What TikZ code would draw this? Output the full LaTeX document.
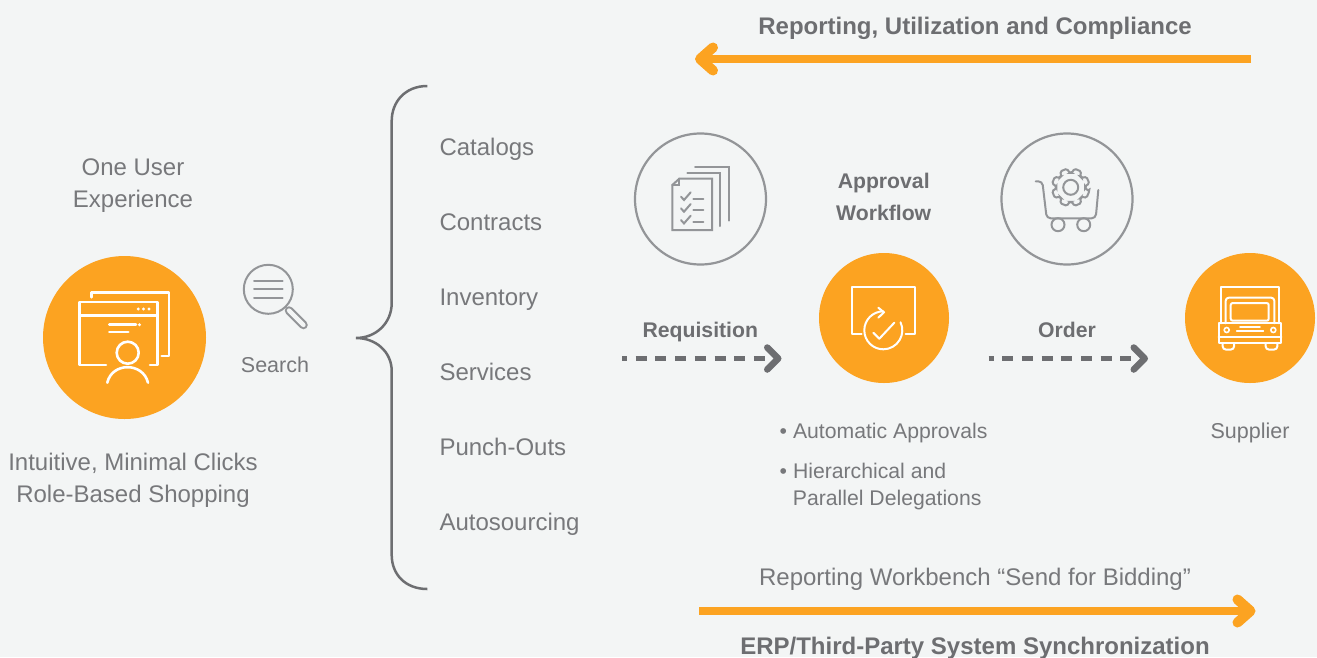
\documentclass[tikz,border=0pt]{standalone}
\usepackage{fontspec}
\setmainfont{Liberation Sans}
\usetikzlibrary{arrows.meta}
\definecolor{pagegray}{HTML}{F3F5F5}
\definecolor{accentorange}{HTML}{FCA321}
\definecolor{textgray}{HTML}{77787B}
\definecolor{boldgray}{HTML}{6D6E71}
\definecolor{ringgray}{HTML}{939598}
\begin{document}
\begin{tikzpicture}[x=1pt,y=-1pt]
		\tikzstyle{every node}+=[inner sep=0pt]
		\tikzstyle{bigtext}=[text=textgray,font=\fontsize{24}{24}\selectfont]
		\tikzstyle{smalltext}=[text=textgray,font=\fontsize{21.5}{24}\selectfont]
		\tikzstyle{listtext}=[text=textgray,font=\fontsize{21.2}{24}\selectfont]
		\tikzstyle{boldlabel}=[text=boldgray,font=\fontsize{21.2}{24}\selectfont\bfseries]
		\tikzstyle{headline}=[text=boldgray,font=\fontsize{24}{24}\selectfont\bfseries]
		\tikzstyle{orangedot}=[circle,fill=accentorange]
		\tikzstyle{graydot}=[circle,draw=ringgray,line width=2.2pt,minimum size=131pt]
		\tikzstyle{whiteline}=[draw=white,line width=2.6pt,line cap=round,line join=round]
		\tikzstyle{thinwhite}=[draw=white,line width=2pt,line cap=round,line join=round]
		\tikzstyle{grayline}=[draw=ringgray,line width=2pt,line cap=round,line join=miter]
		\tikzstyle{thickarrow}=[draw=accentorange,line width=7.5pt,-{Straight Barb[round,length=13pt,width=23pt,line width=10pt]}]
		\tikzstyle{dashedarrow}=[draw=boldgray,line width=4.5pt,dash pattern=on 11pt off 8.7pt,dash phase=6pt,-{Straight Barb[round,length=11pt,width=22pt,line width=6.5pt]}]
		\useasboundingbox (0,0) rectangle (1317,657);
		\fill [pagegray] (0,0) rectangle (1317,657);

		\node [headline,anchor=base] (reportinghead) at (975,34) {Reporting, Utilization and Compliance};
		\coordinate (topstart) at (1251,59);
		\coordinate (topend) at (695,59);
		\draw [thickarrow] (topstart) -- (topend);

		\node [bigtext,anchor=base] (oneuser) at (133,175) {One User};
		\node [bigtext,anchor=base] (experience) at (133,207) {Experience};
		\node [orangedot,minimum size=163pt] (shopdot) at (124.5,337.5) {};
		\node [bigtext,anchor=base] (intuitive) at (133,470) {Intuitive, Minimal Clicks};
		\node [bigtext,anchor=base] (rolebased) at (133,502) {Role-Based Shopping};

		\draw [whiteline] (91.7,297.3) -- (91.7,292.7) -- (169,292.7) -- (169,356) -- (161.7,356);
		\draw [whiteline] (106,365) -- (79.3,365) -- (79.3,302) -- (157.7,302) -- (157.7,365) -- (150,365);
		\draw [whiteline] (79.3,315.3) -- (157.7,315.3);
		\fill [white] (138.3,309) circle (1.6);
		\fill [white] (143.5,309) circle (1.6);
		\fill [white] (149,309) circle (1.6);
		\draw [whiteline] (109.3,324.7) -- (136,324.7);
		\fill [white] (139.5,324.7) circle (1.6);
		\draw [whiteline] (109.3,332) -- (128.3,332);
		\draw [whiteline] (127.7,352.7) circle (11);
		\draw [whiteline] (107.3,382.7) .. controls (112,362) and (143,362) .. (148,382.7);

		\draw [grayline] (268.3,289.3) circle (24.5);
		\draw [grayline] (254,280.7) -- (282.7,280.7);
		\draw [grayline] (254,289.3) -- (282.7,289.3);
		\draw [grayline] (254,298.3) -- (282.7,298.3);
		\draw [ringgray,line width=8.5pt,line cap=round] (289,310.5) -- (303.5,325);
		\draw [pagegray,line width=4.3pt,line cap=round] (289,310.5) -- (303.5,325);
		\node [smalltext,anchor=base] (search) at (275,372) {Search};

		\draw [boldgray,line width=2.5pt] (427.3,86) .. controls (405,86) and (391.7,102) .. (391.7,121) -- (391.7,303) .. controls (391.7,323) and (376,338) .. (356,338) .. controls (376,338) and (391.7,352) .. (391.7,371) -- (391.7,555) .. controls (391.7,574) and (405,589) .. (427.3,589);

		\node [bigtext,anchor=base west] (catalogs) at (439.3,155) {Catalogs};
		\node [bigtext,anchor=base west] (contracts) at (439.3,230) {Contracts};
		\node [bigtext,anchor=base west] (inventory) at (439.3,305) {Inventory};
		\node [bigtext,anchor=base west] (services) at (439.3,380) {Services};
		\node [bigtext,anchor=base west] (punchouts) at (439.3,455) {Punch-Outs};
		\node [bigtext,anchor=base west] (autosourcing) at (439.3,530) {Autosourcing};

		\node [graydot] (reqring) at (700.5,199) {};
		\draw [grayline] (695,167.3) -- (728.7,167.3) -- (728.7,220.7);
		\draw [grayline] (687.3,173.3) -- (720.3,173.3) -- (720.3,226);
		\draw [grayline] (679.3,178.7) -- (712,178.7) -- (712,230) -- (672.3,230) -- (672.3,185) -- cycle;
		\draw [grayline] (679.3,178.7) -- (679.3,185) -- (672.3,185);
		\draw [grayline] (681,196.7) -- (684,200) -- (690.7,192.3);
		\draw [grayline] (693.3,198.7) -- (703.3,198.7);
		\draw [grayline] (681,208.4) -- (684,211.7) -- (690.7,204);
		\draw [grayline] (693.3,210.4) -- (703.3,210.4);
		\draw [grayline] (681,220.1) -- (684,223.4) -- (690.7,215.7);
		\draw [grayline] (693.3,222.1) -- (703.3,222.1);

		\node [boldlabel,anchor=base] (requisition) at (700.3,337) {Requisition};
		\coordinate (reqstart) at (622,358.5);
		\coordinate (reqend) at (781.5,358.5);
		\draw [dashedarrow] (reqstart) -- (reqend);

		\node [boldlabel,anchor=base] (approval) at (883.7,188) {Approval};
		\node [boldlabel,anchor=base] (workflow) at (883.7,220) {Workflow};
		\node [orangedot,minimum size=130pt] (approvaldot) at (884,318) {};
		\draw [thinwhite] (861.7,333.7) -- (852.3,333.7) -- (852.3,287) -- (915,287) -- (915,333.7) -- (905.7,333.7);
		\draw [thinwhite] (883.3,311.3) arc (-90:-385:19);
		\draw [thinwhite] (878.3,307.7) -- (884,312.3) -- (878.3,317.7);
		\draw [thinwhite] (873.3,332.7) -- (879.3,338.7) -- (894.3,322.7);

		\node [listtext,anchor=base west] (autoapprovals) at (779.5,438) {• Automatic Approvals};
		\node [listtext,anchor=base west] (hierarchical) at (779.5,478) {• Hierarchical and};
		\node [listtext,anchor=base west] (parallel) at (792.7,505) {Parallel Delegations};

		\node [graydot] (orderring) at (1067,199) {};
		\draw [grayline,rounded corners=4pt] (1035.7,181.3) -- (1042.3,181.3) -- (1046.7,218.3) -- (1095.7,218.3) -- (1098.3,190);
		\draw [grayline] (1058,224.7) circle (6.5);
		\draw [grayline] (1083.7,224.7) circle (6.5);
		\draw [grayline] (1070.7,187.3) circle (7.5);
		\draw [grayline,rounded corners=1.5pt,shift={(1070.7,187.3)}] (11.5:19) \foreach \a in {22.5,67.5,...,337.5} { -- (\a-11:19) -- (\a+11:19) -- (\a+18:14.5) -- (\a+27:14.5)} -- cycle;

		\node [boldlabel,anchor=base] (order) at (1067,337) {Order};
		\coordinate (orderstart) at (988.5,358.5);
		\coordinate (orderend) at (1148,358.5);
		\draw [dashedarrow] (orderstart) -- (orderend);

		\node [orangedot,minimum size=130pt] (supplierdot) at (1250,318) {};
		\draw [thinwhite] (1220.7,323.3) -- (1220.7,287) -- (1279.3,287) -- (1279.3,323.3);
		\draw [thinwhite,rounded corners=3pt] (1225.7,323.3) -- (1225.7,297.7) -- (1274.3,297.7) -- (1274.3,323.3);
		\draw [thinwhite,rounded corners=2pt] (1230.7,303) rectangle (1268.7,320.7);
		\draw [thinwhite] (1218.7,323.3) rectangle (1281.3,342.7);
		\draw [thinwhite] (1218.7,336.7) -- (1281.3,336.7);
		\draw [white,line width=1.6pt] (1226.7,330) circle (2.5);
		\draw [white,line width=1.6pt] (1273.3,330) circle (2.5);
		\draw [thinwhite,line width=1.8pt] (1240,326.7) -- (1260,326.7);
		\draw [thinwhite,line width=1.8pt] (1236.7,330.7) -- (1263.3,330.7);
		\draw [thinwhite,rounded corners=3pt] (1222.7,343) -- (1222.7,349.5) -- (1234,349.5) -- (1234,343);
		\draw [thinwhite,rounded corners=3pt] (1265.7,343) -- (1265.7,349.5) -- (1277.3,349.5) -- (1277.3,343);
		\node [smalltext,anchor=base] (supplier) at (1250,438) {Supplier};

		\node [bigtext,anchor=base] (workbench) at (975,585) {Reporting Workbench “Send for Bidding”};
		\coordinate (bottomstart) at (699,611);
		\coordinate (bottomend) at (1255.5,611);
		\draw [thickarrow] (bottomstart) -- (bottomend);
		\node [headline,anchor=base] (erphead) at (975,654) {ERP/Third-Party System Synchronization};
	\end{tikzpicture}
\end{document}
